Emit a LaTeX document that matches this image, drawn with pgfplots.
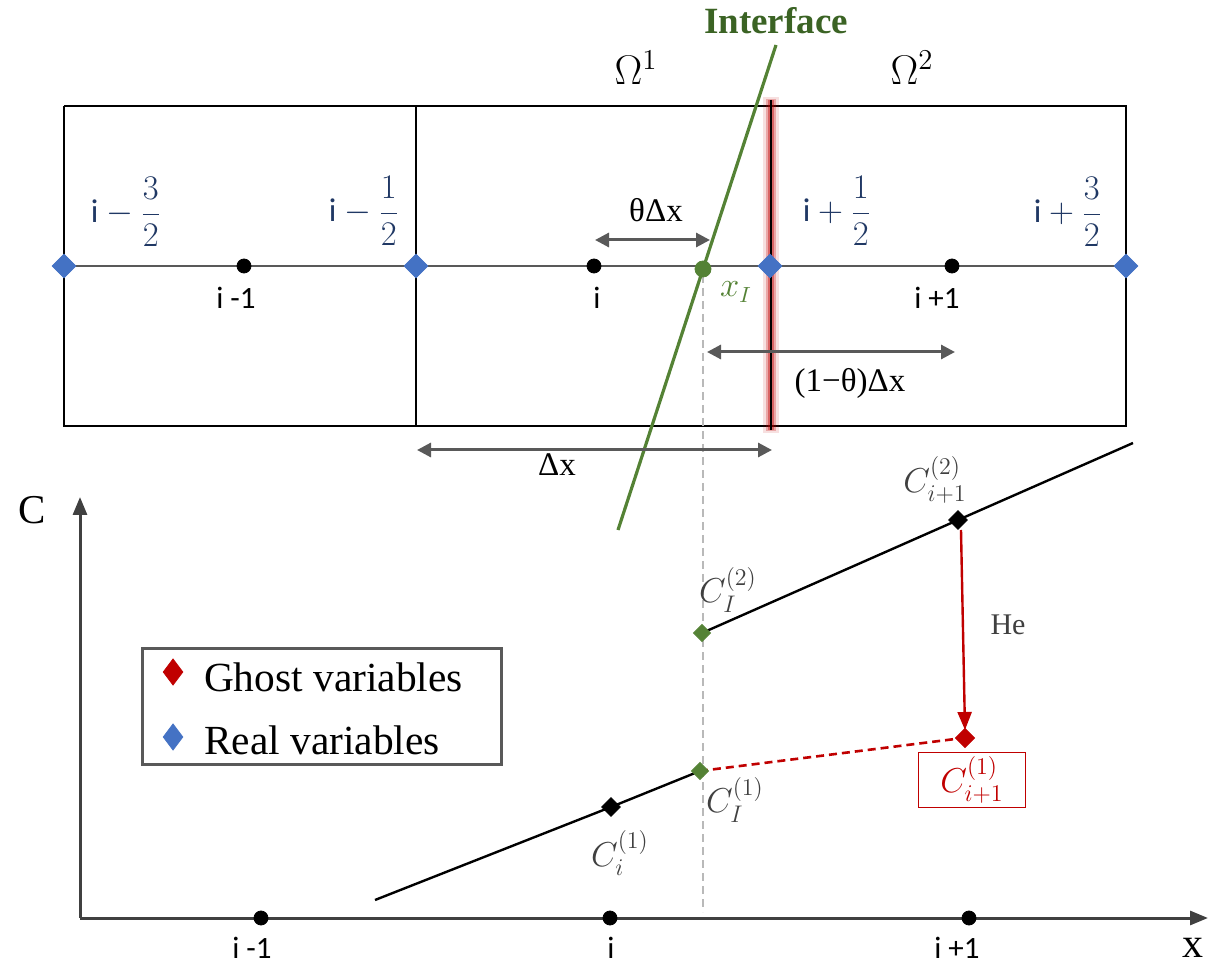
\documentclass[border=0pt]{standalone}
\usepackage{amsmath}
\usepackage{pgfplots}
\pgfplotsset{compat=1.18}
\usetikzlibrary{arrows.meta}
\usepackage{fontspec}
\setmainfont{Carlito}
\newfontfamily\tms{Liberation Serif}

\definecolor{realblue}{HTML}{4472C4}
\definecolor{ifgreen}{HTML}{548235}
\definecolor{ifdark}{HTML}{3B6324}
\definecolor{navy}{HTML}{203864}
\definecolor{ghostred}{HTML}{C00000}
\definecolor{arrgray}{HTML}{595959}
\definecolor{axgray}{HTML}{404040}

\tikzset{
  fs/.style={font=\fontsize{#1}{#1}\selectfont},
  dim/.style={arrgray, line width=1.5pt, {Triangle[length=7pt,width=7pt]}-{Triangle[length=7pt,width=7pt]}},
}

\begin{document}
\begin{tikzpicture}
\begin{axis}[
  width=608.5pt, height=482.5pt, scale only axis,
  xmin=0, xmax=1217, ymin=0, ymax=965,
  y dir=reverse,
  axis lines=none, ticks=none,
  clip=false,
]
\path (axis cs:0,0) rectangle (axis cs:1217,965);

% cells
\addplot[black, line width=1.25pt] coordinates {(64,106)(1126,106)(1126,426)(64,426)(64,106)};
\addplot[black, line width=1.1pt] coordinates {(416,106)(416,426)};
% cell centre line
\addplot[arrgray, line width=0.9pt] coordinates {(64,266)(1126,266)};
% cell face next to the interface
\addplot[ghostred, opacity=0.12, line width=8pt] coordinates {(771,97)(771,433)};
\addplot[ghostred, opacity=0.25, line width=5pt] coordinates {(771,99)(771,431)};
\addplot[ghostred, opacity=0.4, line width=2.6pt] coordinates {(771,100)(771,430)};
\addplot[black, line width=1.3pt] coordinates {(771,100)(771,430)};

% interface
\addplot[ifgreen, line width=1.6pt] coordinates {(776,45)(618,530)};

% projection of x_I
\addplot[gray!55, line width=0.7pt, dash pattern=on 4pt off 2.5pt] coordinates {(703,275)(703,912)};

% dimension arrows
\addplot[dim] coordinates {(595,240)(710,240)};
\addplot[dim] coordinates {(707,352)(955,352)};
\addplot[dim] coordinates {(417,450)(772,450)};

% C-x axes
\addplot[axgray, line width=1.5pt, -{Triangle[length=9pt,width=7pt]}] coordinates {(80,918)(80,497)};
\addplot[axgray, line width=1.5pt, -{Triangle[length=9pt,width=7pt]}] coordinates {(80,918)(1208,918)};

% profiles
\addplot[black, line width=1.2pt] coordinates {(375,900)(611,807)(700,771)};
\addplot[black, line width=1.2pt] coordinates {(702,633)(958,520)(1133,443)};
\addplot[ghostred, line width=1.3pt, dash pattern=on 4pt off 2.5pt] coordinates {(700,771)(963,738)};
\addplot[ghostred, line width=1.2pt, -{Triangle[length=9pt,width=7pt]}] coordinates {(961,530)(965,730)};

% nodes on the grid line
\addplot[only marks, mark=*, mark size=3.5pt, black] coordinates {(244,266)(594,266)(952,266)};
\addplot[only marks, mark=square*, mark options={rotate=45}, mark size=4.2pt, realblue] coordinates {(64,266)(416,266)(770,266)(1126,266)};
\addplot[only marks, mark=*, mark size=4pt, ifgreen] coordinates {(703,269)};

% nodes on the x axis
\addplot[only marks, mark=*, mark size=3.5pt, black] coordinates {(261,918)(610,918)(969,918)};

% values
\addplot[only marks, mark=square*, mark options={rotate=45}, mark size=3.3pt, black] coordinates {(611,807)(958,520)};
\addplot[only marks, mark=square*, mark options={rotate=45}, mark size=3pt, ifgreen] coordinates {(702,633)(700,771)};
\addplot[only marks, mark=square*, mark options={rotate=45}, mark size=3.4pt, ghostred] coordinates {(965,738)};

% legend
\draw[arrgray, line width=1.5pt, fill=white] (axis cs:142,648) rectangle (axis cs:501,764);
\addplot[only marks, mark=diamond*, mark size=6.5pt, ghostred] coordinates {(173,672)};
\addplot[only marks, mark=diamond*, mark size=6.5pt, realblue] coordinates {(173,737)};
\node[anchor=west, font=\tms\fontsize{20.7}{20.7}\selectfont] at (axis cs:197,677) {Ghost variables};
\node[anchor=west, font=\tms\fontsize{20.7}{20.7}\selectfont] at (axis cs:197,740) {Real variables};

% text
\node[font=\tms\bfseries\fontsize{18.5}{18.5}\selectfont, text=ifdark] at (axis cs:776,21) {Interface};
\node[fs=22] at (axis cs:636,68) {$\Omega^{1}$};
\node[fs=22] at (axis cs:912,68) {$\Omega^{2}$};

\node[fs=16.5, text=navy] at (axis cs:126,212) {$\mathrm{i}-\dfrac{3}{2}$};
\node[fs=16.5, text=navy] at (axis cs:364,211) {$\mathrm{i}-\dfrac{1}{2}$};
\node[fs=16.5, text=navy] at (axis cs:837,211) {$\mathrm{i}+\dfrac{1}{2}$};
\node[fs=16.5, text=navy] at (axis cs:1068,212) {$\mathrm{i}+\dfrac{3}{2}$};

\node[fs=15.5] at (axis cs:236,298) {i -1};
\node[fs=15.5] at (axis cs:597,298) {i};
\node[fs=15.5] at (axis cs:937,298) {i +1};
\node[fs=16, text=ifgreen] at (axis cs:736,292) {$x_I$};

\node[font=\tms\fontsize{16.5}{16.5}\selectfont] at (axis cs:656,210) {θΔx};
\node[font=\tms\fontsize{16.5}{16.5}\selectfont] at (axis cs:850,383) {(1−θ)Δx};
\node[font=\tms\fontsize{16.5}{16.5}\selectfont] at (axis cs:557,465) {Δx};

\node[font=\tms\fontsize{20.5}{20.5}\selectfont] at (axis cs:32,510) {C};
\node[font=\tms\fontsize{21}{21}\selectfont] at (axis cs:1193,948) {x};
\node[font=\tms\fontsize{15}{15}\selectfont, text=axgray] at (axis cs:1008,625) {He};

\node[fs=15.5] at (axis cs:252,948) {i -1};
\node[fs=15.5] at (axis cs:611,948) {i};
\node[fs=15.5] at (axis cs:957,948) {i +1};

\node[fs=18, text=axgray] at (axis cs:935,480) {$C_{i+1}^{(2)}$};
\node[fs=18, text=axgray] at (axis cs:728,590) {$C_{I}^{(2)}$};
\node[fs=18, text=axgray] at (axis cs:735,800) {$C_{I}^{(1)}$};
\node[fs=18, text=axgray] at (axis cs:620,853) {$C_{i}^{(1)}$};
\node[fs=18, text=ghostred, draw=ghostred, line width=0.6pt, minimum width=53.5pt, minimum height=27.5pt, inner sep=0pt] at (axis cs:972,780) {$C_{i+1}^{(1)}$};
\end{axis}
\end{tikzpicture}
\end{document}
